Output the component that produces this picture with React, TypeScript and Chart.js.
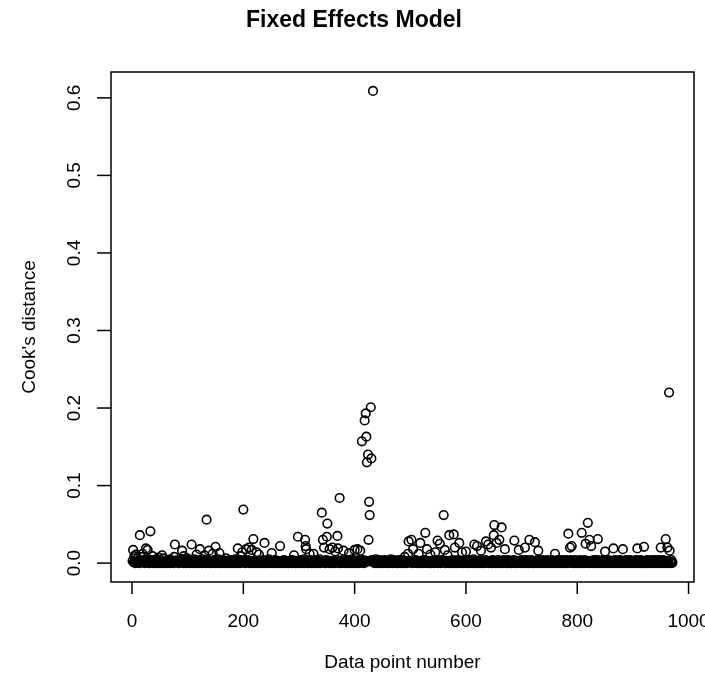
import React, { useEffect, useRef } from "react";
import { Chart, registerables } from "chart.js";

Chart.register(...registerables);

// Cook's distance values, in thousandths, for data points 1..971
const cooksMilli001to200 = [
  3, 17, 1, 9, 2, 0, 11, 1, 2, 6, 1, 3, 0, 36, 2, 8, 1, 3, 12, 2,
  1, 4, 0, 2, 19, 3, 1, 17, 5, 2, 0, 3, 41, 1, 4, 2, 9, 1, 0, 3,
  2, 1, 5, 0, 3, 2, 1, 7, 2, 0, 4, 1, 2, 10, 0, 1, 6, 2, 1, 3,
  1, 0, 2, 4, 1, 3, 2, 0, 5, 1, 2, 3, 1, 0, 2, 8, 24, 1, 3, 2,
  1, 4, 2, 0, 3, 1, 2, 5, 1, 16, 2, 0, 9, 1, 4, 2, 0, 1, 6, 2,
  3, 1, 0, 2, 4, 1, 24, 2, 0, 3, 1, 5, 2, 0, 1, 11, 2, 4, 0, 1,
  2, 18, 1, 3, 0, 2, 5, 1, 2, 10, 1, 0, 3, 56, 2, 1, 4, 16, 0, 2,
  1, 3, 0, 2, 12, 1, 2, 4, 0, 21, 3, 1, 2, 0, 5, 1, 13, 2, 0, 1,
  2, 0, 4, 1, 3, 2, 1, 0, 6, 2, 1, 3, 0, 2, 1, 4, 2, 1, 0, 3,
  1, 2, 0, 3, 1, 5, 2, 1, 0, 19, 2, 1, 3, 0, 9, 4, 1, 14, 2, 69,
];
const cooksMilli201to400 = [
  1, 3, 0, 2, 18, 1, 2, 4, 1, 20, 0, 3, 1, 2, 17, 1, 0, 31, 2, 3,
  1, 2, 0, 14, 1, 3, 2, 11, 0, 1, 2, 3, 1, 0, 2, 4, 1, 26, 0, 2,
  3, 1, 0, 2, 1, 5, 2, 0, 3, 1, 13, 2, 0, 1, 3, 2, 4, 1, 0, 2,
  1, 3, 2, 0, 1, 22, 2, 1, 0, 3, 2, 1, 4, 0, 2, 1, 3, 0, 2, 1,
  2, 0, 1, 3, 1, 2, 0, 4, 1, 2, 10, 1, 3, 0, 2, 1, 2, 34, 0, 3,
  1, 2, 4, 0, 1, 3, 2, 1, 0, 5, 30, 22, 18, 1, 2, 0, 3, 1, 12, 4,
  1, 0, 2, 3, 1, 12, 0, 2, 1, 4, 2, 1, 0, 3, 2, 1, 5, 0, 2, 1,
  65, 2, 30, 1, 20, 3, 0, 2, 4, 34, 51, 1, 2, 0, 18, 3, 1, 2, 0, 20,
  2, 1, 3, 0, 15, 2, 1, 4, 35, 19, 1, 0, 84, 2, 3, 1, 0, 2, 4, 16,
  1, 3, 0, 2, 1, 4, 2, 0, 3, 13, 1, 2, 0, 3, 5, 1, 2, 0, 1, 17,
];
const cooksMilli401to600 = [
  2, 3, 0, 1, 18, 2, 4, 1, 0, 16, 3, 2, 157, 1, 4, 2, 0, 184, 3, 193,
  163, 130, 2, 140, 30, 79, 62, 3, 201, 135, 4, 2, 609, 1, 3, 0, 2, 5, 1, 2,
  0, 3, 1, 2, 4, 1, 0, 2, 3, 1, 2, 0, 1, 4, 2, 1, 3, 0, 2, 1,
  3, 1, 0, 2, 5, 1, 2, 0, 3, 1, 4, 2, 1, 0, 3, 2, 1, 0, 2, 4,
  1, 2, 0, 3, 1, 2, 4, 0, 1, 8, 2, 3, 1, 0, 2, 12, 28, 1, 3, 2,
  1, 30, 2, 0, 18, 3, 1, 2, 4, 1, 0, 2, 3, 1, 12, 2, 0, 26, 3, 1,
  2, 0, 3, 1, 4, 2, 39, 1, 0, 18, 2, 1, 3, 0, 2, 11, 1, 0, 3, 2,
  1, 3, 0, 2, 14, 1, 2, 4, 29, 0, 1, 3, 25, 2, 0, 1, 4, 2, 3, 62,
  2, 17, 0, 3, 1, 2, 10, 1, 0, 36, 2, 3, 1, 0, 2, 4, 1, 37, 0, 20,
  1, 3, 2, 0, 4, 1, 2, 26, 3, 1, 0, 2, 14, 1, 3, 0, 2, 4, 1, 15,
];
const cooksMilli601to800 = [
  2, 0, 1, 3, 2, 4, 0, 1, 2, 3, 1, 0, 2, 5, 24, 1, 3, 0, 2, 22,
  1, 3, 0, 2, 1, 4, 16, 0, 2, 1, 3, 2, 0, 1, 4, 28, 2, 1, 3, 24,
  0, 2, 1, 3, 20, 1, 0, 4, 2, 36, 49, 1, 3, 0, 26, 2, 1, 4, 0, 30,
  2, 1, 3, 46, 0, 2, 1, 4, 2, 18, 1, 3, 0, 2, 1, 4, 0, 2, 3, 1,
  2, 0, 1, 3, 2, 4, 29, 1, 0, 2, 3, 1, 2, 0, 17, 1, 3, 2, 0, 4,
  1, 2, 0, 3, 1, 20, 2, 4, 0, 1, 3, 2, 0, 30, 1, 2, 4, 0, 3, 1,
  2, 0, 1, 27, 3, 2, 1, 0, 4, 16, 2, 1, 3, 0, 2, 1, 4, 0, 2, 3,
  1, 2, 0, 3, 1, 4, 2, 0, 1, 3, 2, 1, 0, 4, 2, 3, 1, 0, 2, 12,
  3, 1, 0, 2, 4, 1, 2, 0, 3, 1, 2, 4, 0, 1, 3, 2, 1, 0, 2, 4,
  1, 3, 0, 38, 2, 1, 20, 4, 2, 22, 0, 1, 3, 2, 0, 4, 1, 2, 3, 0,
];
const cooksMilli801to971 = [
  2, 1, 3, 0, 4, 1, 2, 39, 0, 3, 1, 2, 4, 0, 25, 1, 3, 2, 52, 1,
  0, 30, 2, 1, 22, 3, 0, 2, 1, 4, 2, 0, 3, 1, 2, 4, 31, 0, 1, 3,
  2, 1, 0, 3, 1, 4, 2, 0, 1, 15, 3, 2, 1, 0, 4, 2, 1, 3, 0, 2,
  1, 3, 2, 0, 19, 1, 2, 4, 0, 3, 1, 2, 0, 3, 1, 2, 4, 0, 1, 3,
  2, 18, 1, 0, 3, 2, 1, 4, 0, 2, 1, 3, 0, 2, 4, 1, 2, 0, 3, 1,
  2, 1, 3, 0, 2, 4, 1, 19, 0, 3, 2, 1, 0, 4, 2, 3, 1, 0, 2, 21,
  1, 0, 3, 2, 1, 4, 0, 2, 1, 3, 2, 0, 1, 4, 2, 3, 0, 1, 2, 4,
  1, 3, 0, 2, 1, 4, 2, 0, 3, 20, 1, 2, 0, 4, 2, 1, 3, 0, 31, 2,
  1, 20, 3, 0, 220, 16, 2, 1, 4, 0, 1,
];

const xTickValues = [0, 200, 400, 600, 800, 1000];
const xTickLabels = ["0", "200", "400", "600", "800", "1000"];
const yTickValues = [0, 0.1, 0.2, 0.3, 0.4, 0.5, 0.6];
const yTickLabels = ["0.0", "0.1", "0.2", "0.3", "0.4", "0.5", "0.6"];

const chartTitle = "Fixed Effects Model";
const xAxisTitle = "Data point number";
const yAxisTitle = "Cook's distance";

const FONT = '"Liberation Sans", Arial, Helvetica, sans-serif';

export default function App() {
  const canvasRef = useRef<HTMLCanvasElement | null>(null);

  useEffect(() => {
    document.body.style.margin = "0";
    const canvas = canvasRef.current;
    if (!canvas) return;

    const values = [
      ...cooksMilli001to200,
      ...cooksMilli201to400,
      ...cooksMilli401to600,
      ...cooksMilli601to800,
      ...cooksMilli801to971,
    ].map((v) => v / 1000);
    const points = values.map((v, i) => ({ x: i + 1, y: v }));
    const n = points.length;
    const xPad = (n - 1) * 0.04;
    const yMax = Math.max(...values);
    const yMin = Math.min(...values);
    const yPad = (yMax - yMin) * 0.04;

    const rPlotPlugin = {
      id: "rPlot",
      afterDraw(chart: any) {
        const { ctx, chartArea: a, scales } = chart;
        const xs = scales.x;
        const ys = scales.y;
        ctx.save();
        ctx.strokeStyle = "#000";
        ctx.fillStyle = "#000";
        ctx.lineWidth = 1.5;
        ctx.strokeRect(a.left, a.top, a.right - a.left, a.bottom - a.top);
        ctx.font = `19px ${FONT}`;
        ctx.textAlign = "center";
        ctx.textBaseline = "top";
        xTickValues.forEach((v, i) => {
          const px = xs.getPixelForValue(v);
          ctx.beginPath();
          ctx.moveTo(px, a.bottom);
          ctx.lineTo(px, a.bottom + 12);
          ctx.stroke();
          ctx.fillText(xTickLabels[i], px, a.bottom + 30);
        });
        yTickValues.forEach((v, i) => {
          const py = ys.getPixelForValue(v);
          ctx.beginPath();
          ctx.moveTo(a.left, py);
          ctx.lineTo(a.left - 14, py);
          ctx.stroke();
          ctx.save();
          ctx.translate(a.left - 31, py);
          ctx.rotate(-Math.PI / 2);
          ctx.textAlign = "center";
          ctx.textBaseline = "alphabetic";
          ctx.fillText(yTickLabels[i], 0, 0);
          ctx.restore();
        });
        ctx.font = `19px ${FONT}`;
        ctx.textAlign = "center";
        ctx.textBaseline = "alphabetic";
        ctx.fillText(xAxisTitle, (a.left + a.right) / 2, a.bottom + 86);
        ctx.save();
        ctx.translate(a.left - 76, (a.top + a.bottom) / 2);
        ctx.rotate(-Math.PI / 2);
        ctx.fillText(yAxisTitle, 0, 0);
        ctx.restore();
        ctx.font = `bold 23px ${FONT}`;
        ctx.textBaseline = "middle";
        ctx.fillText(chartTitle, 354, 21);
        ctx.restore();
      },
    };

    const chart = new Chart(canvas, {
      type: "scatter",
      data: {
        datasets: [
          {
            data: points,
            showLine: false,
            pointStyle: "circle",
            pointRadius: 4.3,
            pointHoverRadius: 4.3,
            pointBorderWidth: 1.6,
            pointBorderColor: "#000",
            pointBackgroundColor: "rgba(0,0,0,0)",
            borderColor: "#000",
            backgroundColor: "rgba(0,0,0,0)",
          },
        ],
      },
      options: {
        animation: false,
        responsive: false,
        events: [],
        layout: { padding: { left: 111, right: 11, top: 72, bottom: 105 } },
        plugins: {
          legend: { display: false },
          tooltip: { enabled: false },
          title: { display: false },
        },
        scales: {
          x: { type: "linear", display: false, min: 1 - xPad, max: n + xPad },
          y: { type: "linear", display: false, min: yMin - yPad, max: yMax + yPad },
        },
      },
      plugins: [rPlotPlugin],
    });

    return () => chart.destroy();
  }, []);

  return (
    <canvas
      ref={canvasRef}
      width={705}
      height={687}
      style={{ display: "block", position: "absolute", left: 0, top: 0, width: 705, height: 687 }}
    />
  );
}
